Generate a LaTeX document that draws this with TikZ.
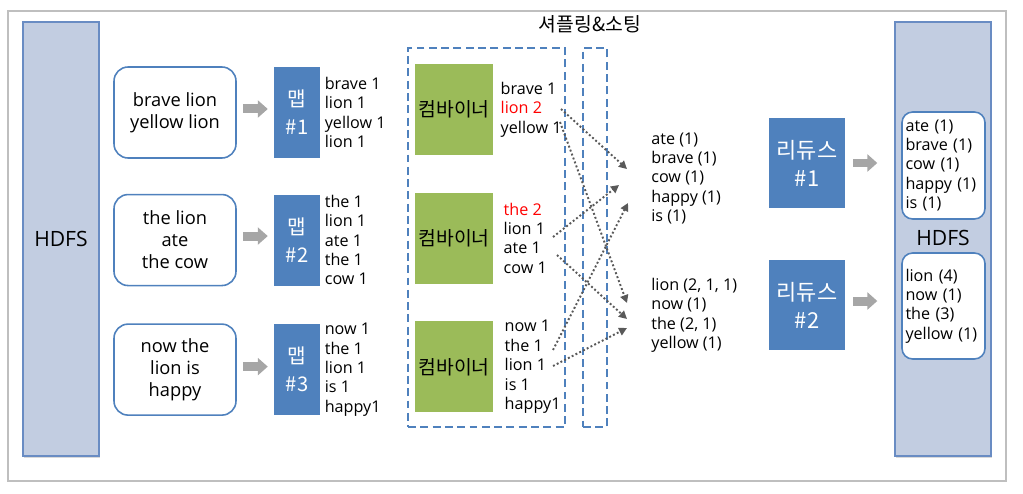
\documentclass[tikz,border=0pt]{standalone}
\usepackage{fontspec}
\setmainfont{Open Sans}
\newfontfamily\kr{Noto Sans CJK KR}
\definecolor{hdfsfill}{RGB}{194,205,225}
\definecolor{hdfsline}{RGB}{105,140,195}
\definecolor{boxblue}{RGB}{79,129,189}
\definecolor{cbgreen}{RGB}{155,187,89}
\definecolor{dotgray}{RGB}{89,89,89}
\definecolor{framegray}{RGB}{191,191,191}
\definecolor{arrowgray}{RGB}{166,166,166}
\usetikzlibrary{arrows.meta,positioning,shadows}

\begin{document}
\begin{tikzpicture}[x=0.02cm,y=-0.02cm,
        node distance=0.7cm,
        hdfs/.style={rectangle,draw=hdfsline,line width=0.8pt,fill=hdfsfill,
                     minimum height=8.68cm,inner sep=0pt,
                     drop shadow={shadow xshift=0.6pt,shadow yshift=-1.2pt,opacity=0.3},
                     font=\fontsize{12}{14}\selectfont},
        inbox/.style={rectangle,draw=boxblue,line width=0.9pt,rounded corners=8pt,
                      fill=white,minimum width=2.44cm,minimum height=1.82cm,
                      align=center,font=\fontsize{10.4}{12.5}\selectfont},
        mapbox/.style={rectangle,fill=boxblue,text=white,minimum width=0.92cm,
                       minimum height=1.82cm,align=center,inner sep=0pt,
                       font=\kr\fontsize{11.5}{16}\selectfont},
        cbbox/.style={rectangle,fill=cbgreen,minimum width=1.56cm,
                      minimum height=1.82cm,inner sep=0pt,
                      font=\kr\fontsize{11}{12}\selectfont},
        rdbox/.style={rectangle,fill=boxblue,text=white,minimum width=1.52cm,
                      minimum height=1.80cm,align=center,inner sep=0pt,
                      font=\kr\fontsize{12.5}{16}\selectfont},
        outbox/.style={rectangle,draw=boxblue,line width=0.9pt,rounded corners=6pt,
                       fill=white,minimum width=1.66cm,text width=1.52cm,
                       inner xsep=0.07cm,align=left,
                       font=\fontsize{9.2}{11.06}\selectfont},
        kv/.style={inner sep=0pt,anchor=west,align=left,
                   font=\fontsize{9.2}{11.06}\selectfont},
        dashbox/.style={rectangle,draw=boxblue,line width=0.9pt,
                        dash pattern=on 4.5pt off 2.5pt,minimum height=7.58cm},
        blockarrow/.style={arrowgray,line width=0.18cm,
                           -{Triangle[length=0.2cm,width=0.34cm]}},
        dotarrow/.style={dotgray,line width=1.1pt,dash pattern=on 1.1pt off 1.3pt,
                         -{Triangle[length=0.16cm,width=0.16cm]}}
      ]
        \useasboundingbox (0,0) rectangle (1023,493);
        \draw[framegray,line width=0.85pt] (8,11) rectangle (1006,481);

        \node[hdfs,minimum width=1.52cm] (hdfsL) at (61,239) {HDFS};
        \node[hdfs,minimum width=1.92cm] (hdfsR) at (943,239) {};
        \node[font=\fontsize{12}{14}\selectfont] (hdfsRlbl) at (943,238) {HDFS};

        \node[inbox] (in1) at (175,112.5) {brave lion\\yellow lion};
        \node[inbox,below=of in1] (in2) {the lion\\ate\\the cow};
        \node[inbox,below=0.74cm of in2] (in3) {now the\\lion is\\happy};

        \node[mapbox,right=0.74cm of in1] (map1) {맵\\\#1};
        \node[mapbox,right=0.74cm of in2] (map2) {맵\\\#2};
        \node[mapbox,right=0.74cm of in3] (map3) {맵\\\#3};

        \node[kv,right=0.08cm of map1] (mo1) {brave 1\\lion 1\\yellow 1\\lion 1};
        \node[kv,right=0.08cm of map2] (mo2) {the 1\\lion 1\\ate 1\\the 1\\cow 1};
        \node[kv,right=0.08cm of map3] (mo3) {now 1\\the 1\\lion 1\\is 1\\happy1};

        \node[dashbox,minimum width=3.14cm] (shuf) at (486.5,237.5) {};
        \node[dashbox,minimum width=0.48cm] (sort) at (595,237.5) {};
        \node[font=\kr\fontsize{11}{12}\selectfont] (shuftitle) at (590,24) {셔플링\&소팅};

        \node[cbbox] (cb1) at (454,109.5) {컴바이너};
        \node[cbbox,below=0.74cm of cb1] (cb2) {컴바이너};
        \node[cbbox,below=0.74cm of cb2] (cb3) {컴바이너};

        \node[kv,right=0.14cm of cb1] (co1) {brave 1\\\textcolor{red}{lion 2}\\yellow 1};
        \node[kv,right=0.2cm of cb2] (co2) {\textcolor{red}{the 2}\\lion 1\\ate 1\\cow 1};
        \node[kv,right=0.22cm of cb3] (co3) {now 1\\the 1\\lion 1\\is 1\\happy1};

        \node[kv] (ri1) at (651,178.5) {ate (1)\\brave (1)\\cow (1)\\happy (1)\\is (1)};
        \node[kv] (ri2) at (651,315.5) {lion (2, 1, 1)\\now (1)\\the (2, 1)\\yellow (1)};

        \node[rdbox] (rd1) at (807,163) {리듀스\\\#1};
        \node[rdbox] (rd2) at (807,305) {리듀스\\\#2};

        \node[outbox,minimum height=2.14cm] (out1) at (943.5,165.5)
          {ate (1)\\brave (1)\\cow (1)\\happy (1)\\is (1)};
        \node[outbox,minimum height=2.12cm] (out2) at (943.5,306)
          {lion (4)\\now (1)\\the (3)\\yellow (1)};

        \draw[blockarrow] ([xshift=0.12cm,yshift=0.07cm]in1.east) -- ([xshift=-0.12cm,yshift=0.07cm]map1.west);
        \draw[blockarrow] ([xshift=0.12cm,yshift=0.08cm]in2.east) -- ([xshift=-0.12cm,yshift=0.08cm]map2.west);
        \draw[blockarrow] ([xshift=0.12cm,yshift=0.06cm]in3.east) -- ([xshift=-0.12cm,yshift=0.06cm]map3.west);
        \draw[blockarrow] ([xshift=0.16cm]rd1.east) -- ([xshift=-0.34cm]hdfsR.west |- rd1.east);
        \draw[blockarrow] ([xshift=0.16cm,yshift=0.08cm]rd2.east) -- ([xshift=-0.34cm,yshift=0.08cm]hdfsR.west |- rd2.east);

        \coordinate (c1lion) at (561,109);
        \coordinate (c1yel) at (560,122);
        \coordinate (c2ate) at (553,237);
        \coordinate (c2cow) at (557,255);
        \coordinate (c3the) at (553,350);
        \coordinate (c3lion) at (553,366);
        \coordinate (r1a) at (627,169);
        \coordinate (r1b) at (619,185);
        \coordinate (r1c) at (628,203);
        \coordinate (r2a) at (627,303);
        \coordinate (r2b) at (627,319);
        \coordinate (r2c) at (627,328);

        \draw[dotarrow] (c1lion) -- (r1a);
        \draw[dotarrow] (c1yel) -- (r2a);
        \draw[dotarrow] (c2ate) -- (r1b);
        \draw[dotarrow] (c2cow) -- (r2b);
        \draw[dotarrow] (c3the) -- (r1c);
        \draw[dotarrow] (c3lion) -- (r2c);
      \end{tikzpicture}
\end{document}
